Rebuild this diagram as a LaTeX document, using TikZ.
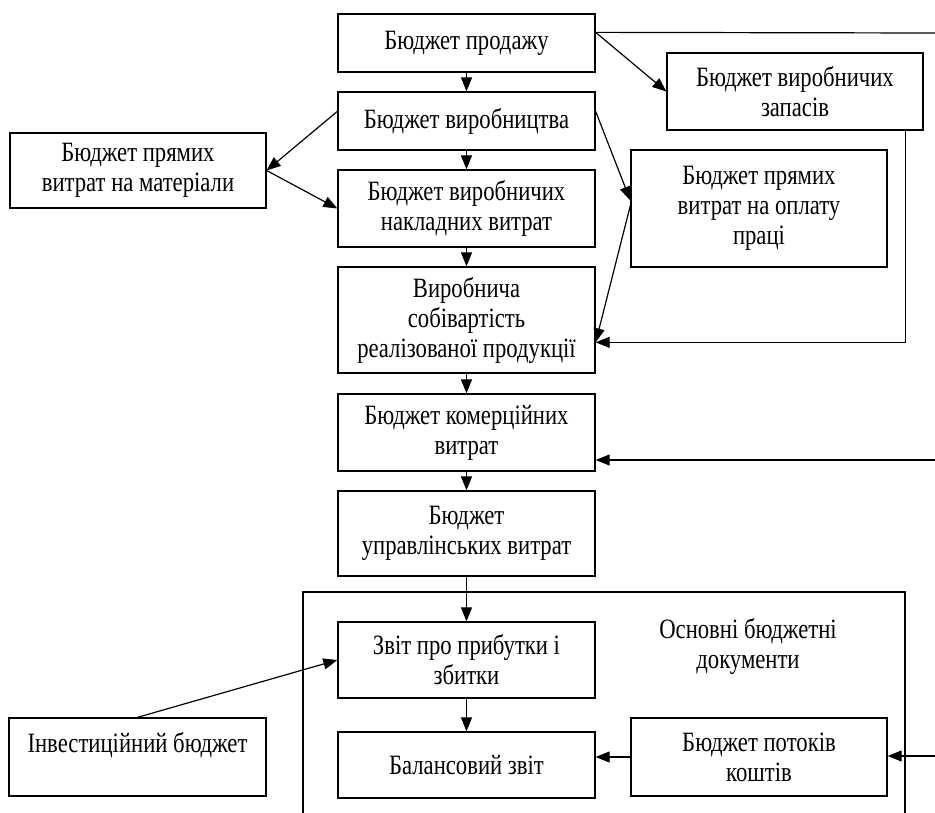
\documentclass[tikz,border=0pt]{standalone}
\usepackage{fontspec}
\setmainfont{Liberation Serif}[FakeStretch=0.81]
\usetikzlibrary{arrows.meta,calc}
\begin{document}
\begin{tikzpicture}[x=1pt,y=-1pt,
  bx/.style={draw, line width=1.3pt, minimum width=257pt, align=center, inner sep=2pt,
    font=\fontsize{28}{30}\selectfont},
  arr/.style={-{Triangle[length=14pt,width=11pt]}, line width=1.2pt},
  ln/.style={line width=1.2pt}]
\useasboundingbox (0,0) rectangle (935,812);
\clip (0,0) rectangle (935,812);
% main column
\node[bx, minimum height=58pt] (b1) at (466.5,43) {Бюджет продажу};
\node[bx, minimum height=58pt] (b2) at (466.5,121) {Бюджет виробництва};
\node[bx, minimum height=77pt] (b3) at (466.5,208.5) {Бюджет виробничих\\накладних витрат};
\node[bx, minimum height=106pt] (b4) at (466.5,320) {Виробнича\\собівартість\\реалізованої продукції};
\node[bx, minimum height=77pt] (b5) at (466.5,432.5) {Бюджет комерційних\\витрат};
\node[bx, minimum height=85pt] (b6) at (466.5,533.5) {Бюджет\\управлінських витрат};
\node[bx, minimum height=76pt] (b7) at (466.5,660) {Звіт про прибутки і\\збитки};
\node[bx, minimum height=66pt] (b8) at (466.5,765) {Балансовий звіт};
% side boxes
\node[bx, minimum width=256pt, minimum height=77pt] (bzap) at (795,91.5) {Бюджет виробничих\\запасів};
\node[bx, minimum width=256pt, minimum height=117pt] (bopl) at (759,208.5) {Бюджет прямих\\витрат на оплату\\праці};
\node[bx, minimum width=256pt, minimum height=75pt] (bmat) at (138,170.5) {Бюджет прямих\\витрат на матеріали};
\node[bx, minimum height=78pt] (binv) at (137.5,757) {Інвестиційний бюджет\\\mbox{}};
\node[bx, minimum width=256pt, minimum height=78pt] (b9) at (759,757) {Бюджет потоків\\коштів};
% container
\draw[ln] (303,830) -- (303,592) -- (905,592) -- (905,830);
\node[font=\fontsize{28}{30}\selectfont, align=center] (lab) at (748,646) {Основні бюджетні\\документи};
% free ends
\coordinate (rtop) at (935,33);
\coordinate (r5) at (935,460);
\coordinate (r9) at (935,756);
\coordinate (b1r) at ($(b1.north east)+(0,19)$);
\coordinate (b2l) at ($(b2.north west)+(0,20)$);
\coordinate (b2r) at ($(b2.north east)+(0,20)$);
\coordinate (oplin) at ($(bopl.west)+(0,-8)$);
\coordinate (oplout) at ($(bopl.west)+(0,-3)$);
\coordinate (b4r) at ($(b4.north east)+(0,76)$);
\coordinate (zapd) at ($(bzap.south east)+(-18,0)$);
% vertical chain
\draw[arr] (b1) -- (b2);
\draw[arr] (b2) -- (b3);
\draw[arr] (b3) -- (b4);
\draw[arr] (b4) -- (b5);
\draw[arr] (b5) -- (b6);
\draw[arr] (b6) -- (b7);
\draw[arr] (b7) -- (b8);
% other connectors
\draw[ln] (b1r) -- (rtop);
\draw[arr] (b1r) -- (bzap.west);
\draw[arr] (b2l) -- (bmat.east);
\draw[arr] (bmat.east) -- (b3.west);
\draw[arr] (b2r) -- (oplin);
\draw[arr] (oplout) -- (b4r);
\draw[arr] (zapd) |- (b4r);
\draw[arr] (r5) -- (r5 -| b5.east);
\draw[arr] (r9) -- (b9.east |- r9);
\draw[arr] (b9.west) -- (b9.west -| b8.east);
\draw[arr] (binv.north) -- (b7.west);
\end{tikzpicture}
\end{document}
